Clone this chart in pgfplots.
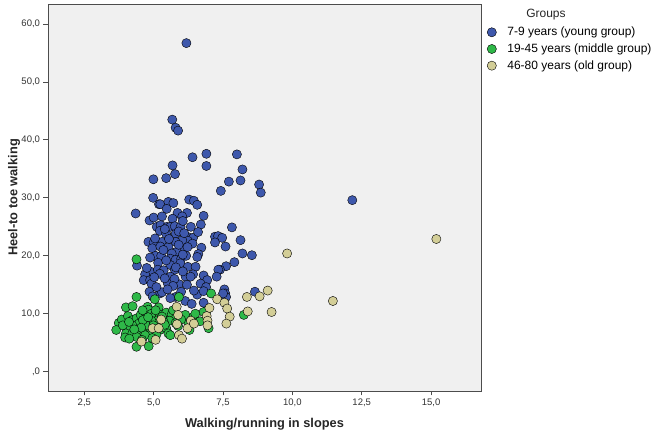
\documentclass[border=0pt]{standalone}
\usepackage{fontspec}
\setmainfont{Liberation Sans}
\usepackage{pgfplots}
\pgfplotsset{compat=1.18}
\definecolor{cblue}{HTML}{3E58AC}
\definecolor{cgreen}{HTML}{2EB848}
\definecolor{ctan}{HTML}{D3CE97}
\definecolor{bg}{HTML}{F0F0F0}
\begin{document}
\begin{tikzpicture}
\useasboundingbox (-48pt,-44pt) rectangle (622pt,391pt);
\begin{axis}[
  at={(0pt,0pt)}, anchor=south west,
  scale only axis, width=433pt, height=387pt,
  xmin=1.19, xmax=16.8, ymin=-3.33, ymax=63.45,
  xtick={2.5,5,7.5,10,12.5,15},
  xticklabels={{2,5},{5,0},{7,5},{10,0},{12,5},{15,0}},
  ytick={0,10,20,30,40,50,60},
  yticklabels={{,0},{10,0},{20,0},{30,0},{40,0},{50,0},{60,0}},
  tick pos=left, tick align=outside, major tick length=4.5pt,
  axis line style={draw=black!70, line width=0.9pt},
  tick style={draw=black!70, line width=0.8pt},
  axis background/.style={fill=bg},
  ticklabel style={font=\fontsize{9.5}{11}\selectfont, text=black!80},
  xlabel={Walking/running in slopes},
  ylabel={Heel-to toe walking},
  label style={font=\bfseries\fontsize{12.8}{14}\selectfont, text=black!85},
  xlabel style={at={(axis description cs:0.5,0)}, anchor=center, yshift=-33pt},
  ylabel style={at={(axis description cs:0,0.5)}, anchor=center, yshift=34pt},
  clip=false,
  legend style={at={(axis description cs:1,1)}, anchor=north west, xshift=6pt, yshift=-21pt,
    draw=none, fill=none, inner sep=0pt, font=\fontsize{12}{14}\selectfont,
    row sep=2.5pt, column sep=9pt, legend cell align=left},
  legend image code/.code={\draw[#1] plot coordinates {(4.6pt,0pt)};},
  every axis plot/.append style={only marks, mark=*, mark size=4.6pt,
     mark options={draw=black!85, line width=0.6pt}},
]
\addplot[mark options={fill=cblue}] coordinates {
(6.18,56.7)(5.67,43.5)(5.79,42.1)(5.88,41.6)(6.40,37.0)(6.90,37.6)(6.90,35.5)(8.00,37.5)
(8.20,34.9)(5.68,35.6)(5.77,34.1)(4.99,33.2)(5.45,33.4)(7.71,32.8)(8.13,33.0)(7.42,31.2)
(8.80,32.3)(8.86,30.9)(12.16,29.6)(4.98,30.0)(5.19,28.9)(5.24,28.9)(5.53,29.3)(5.71,29.1)
(5.47,28.1)(6.28,29.7)(6.45,29.5)(6.57,28.8)(4.35,27.3)(5.86,27.4)(6.20,27.4)(5.68,26.4)
(6.03,26.8)(6.80,26.9)(4.85,26.1)(5.00,26.6)(6.70,25.4)(5.11,25.0)(5.25,25.3)(5.48,25.0)
(5.60,25.0)(5.76,25.1)(5.97,25.0)(6.34,25.0)(7.82,24.9)(5.22,24.3)(5.45,23.8)(5.79,23.8)
(6.26,23.2)(6.42,23.1)(7.21,23.3)(7.32,23.4)(7.47,23.1)(6.23,22.6)(6.03,22.7)(4.81,22.4)
(5.00,22.3)(5.30,22.4)(5.79,22.4)(8.13,22.7)(7.21,22.3)(6.40,22.1)(7.59,21.6)(6.72,21.4)
(4.95,21.3)(5.24,21.6)(5.53,21.5)(6.00,21.3)(6.22,21.5)(5.83,20.7)(5.65,20.4)(8.20,20.4)
(8.54,20.1)(5.07,20.0)(5.27,20.0)(4.87,19.7)(5.60,19.5)(5.79,19.3)(5.99,19.5)(6.17,20.0)
(6.61,20.3)(6.57,19.8)(7.91,18.9)(5.16,18.8)(5.96,18.7)(5.60,18.4)(4.40,18.3)(6.23,18.1)
(6.51,18.1)(7.61,18.2)(7.39,17.6)(7.33,17.6)(4.87,17.3)(5.15,17.6)(5.36,17.5)(5.76,17.6)
(4.69,16.8)(5.22,16.9)(6.42,16.8)(7.27,16.4)(6.80,16.6)(4.64,15.8)(4.87,15.8)(5.60,16.4)
(6.15,16.4)(6.33,16.4)(4.92,15.2)(5.51,15.2)(5.91,15.1)(6.93,15.8)(6.69,15.2)(6.89,14.6)
(7.55,14.2)(7.58,13.5)(4.85,13.8)(5.22,13.5)(5.30,13.7)(5.79,12.9)(5.99,13.8)(6.57,13.3)
(6.80,13.9)(8.65,13.8)(7.61,12.9)(5.60,12.7)(6.14,12.2)(6.37,11.7)(6.80,11.9)(4.96,13.0)
(7.50,13.5)(5.40,24.6)(5.90,24.2)(6.10,23.9)(5.05,23.0)(5.55,22.9)(5.90,21.9)(5.35,21.0)
(6.05,20.2)(5.45,19.2)(5.80,18.0)(5.02,16.3)(5.40,16.1)(5.75,16.0)(6.05,17.3)(5.70,14.8)
(6.20,15.0)(6.45,14.0)(5.10,14.6)(5.50,14.2)(4.75,17.9)(6.60,24.1)(6.05,26.0)(5.30,26.8)
};
\addlegendentry{7-9 years (young group)}
\addplot[mark options={fill=cgreen}] coordinates {
(4.38,19.4)(5.04,12.5)(4.38,12.9)(4.00,11.1)(4.24,11.3)(4.78,11.2)(5.18,11.1)(7.07,13.5)
(6.91,10.5)(5.91,12.9)(8.25,9.8)(3.74,8.4)(3.65,7.2)(3.85,9.0)(4.07,9.6)(4.23,8.9)
(4.38,9.2)(4.53,9.8)(4.69,10.3)(4.81,10.7)(4.92,10.0)(5.02,9.6)(5.22,9.8)(5.45,10.2)
(5.65,9.9)(5.79,9.2)(5.57,8.8)(5.36,8.6)(5.15,8.9)(4.92,8.8)(4.69,8.9)(4.46,8.3)
(4.23,8.0)(4.05,7.6)(3.89,8.0)(4.00,6.6)(4.23,6.6)(4.46,6.9)(4.66,7.2)(4.87,7.5)
(5.07,7.7)(4.72,8.0)(4.99,8.0)(5.22,7.2)(5.45,7.5)(5.53,6.6)(4.92,6.6)(4.69,6.3)
(4.38,6.0)(3.97,5.9)(4.12,5.7)(4.38,4.3)(4.82,4.4)(4.58,5.5)(5.60,6.3)(5.79,8.4)
(6.14,9.8)(6.25,8.4)(6.29,7.2)(6.42,9.4)(6.67,8.7)(6.80,10.3)(6.98,7.5)(5.99,9.0)
(5.88,7.9)(5.07,10.6)(4.61,8.9)(4.11,8.6)(5.30,9.5)(5.10,6.4)(4.55,7.6)(4.80,9.4)
(4.30,7.3)(5.40,8.1)(4.95,5.8)(4.60,10.6)(6.50,10.0)(5.70,10.6)
};
\addlegendentry{19-45 years (middle group)}
\addplot[mark options={fill=ctan}] coordinates {
(15.19,22.9)(9.81,20.4)(11.46,12.2)(9.11,14.0)(8.82,13.0)(8.36,12.9)(7.29,12.5)(7.55,11.9)
(7.65,10.9)(7.01,11.0)(8.39,10.4)(9.25,10.3)(7.74,9.5)(7.62,8.3)(6.91,9.6)(6.94,8.8)
(6.94,8.0)(5.83,11.2)(5.88,9.8)(6.34,8.8)(5.84,8.2)(5.27,9.0)(4.96,7.5)(5.18,7.5)
(4.56,5.2)(5.07,5.5)(5.91,6.3)(6.02,5.7)(6.22,7.5)(6.45,8.3)
};
\addlegendentry{46-80 years (old group)}
\node[font=\fontsize{12}{14}\selectfont, text=black!85] at (axis description cs:1.150,0.9716) {Groups};
\end{axis}
\end{tikzpicture}
\end{document}
